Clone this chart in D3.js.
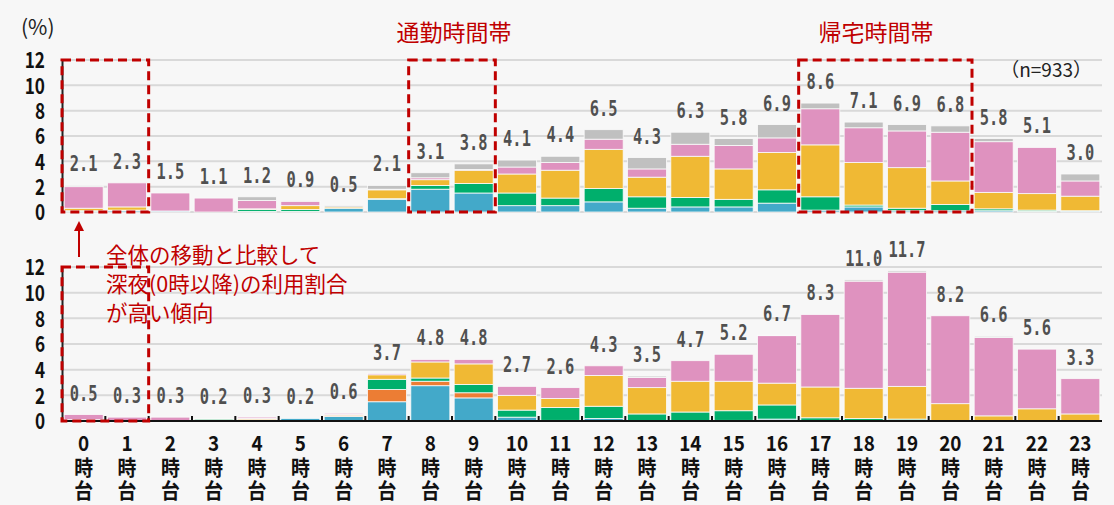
<!DOCTYPE html>
<html>
<head>
<meta charset="utf-8">
<script src="https://cdn.jsdelivr.net/npm/d3@7"></script>
<style>
body { margin: 0; background: #f7f7f7; }
svg { display: block; }
</style>
</head>
<body>
<div id="chart"></div>
<script>
// dimensions
var width = 1114;
var height = 505;

// hour categories and tick labels
var hours = ["0","1","2","3","4","5","6","7","8","9","10","11","12","13","14","15","16","17","18","19","20","21","22","23"];
var yTicks = [0, 2, 4, 6, 8, 10, 12];

// stack order, bottom to top
var keys = ["blue", "orange", "green", "yellow", "pink", "gray"];
var colors = ["#43a9c9", "#ec7d34", "#00af6c", "#f0b934", "#df92bf", "#c0c0c0"];

// top panel: all trips (%)
var topBlue   = [0.05,0.1,0.08,0,0.05,0.05,0.3,1.0,1.8,1.5,0.5,0.5,0.8,0.3,0.4,0.4,0.7,0.15,0.4,0.1,0.1,0.1,0.05,0.08];
var topOrange = [0,0,0,0,0,0,0,0,0,0,0,0,0,0,0,0,0,0,0,0,0,0,0,0];
var topGreen  = [0.05,0.05,0,0,0.15,0.15,0,0.05,0.3,0.75,1.0,0.6,1.05,0.9,0.75,0.6,1.05,1.05,0.15,0.2,0.5,0.15,0.1,0.02];
var topYellow = [0.2,0.25,0,0,0.05,0.3,0.1,0.7,0.45,1.05,1.5,2.2,3.1,1.55,3.25,2.4,2.95,4.1,3.35,3.2,1.85,1.3,1.3,1.15];
var topPink   = [1.7,1.9,1.42,1.1,0.65,0.35,0,0.05,0.15,0.05,0.55,0.6,0.8,0.65,0.95,1.85,1.15,2.85,2.75,2.9,3.85,4.0,3.65,1.2];
var topGray   = [0.1,0,0,0,0.3,0.05,0.1,0.3,0.4,0.45,0.55,0.5,0.75,0.9,0.95,0.55,1.05,0.45,0.45,0.5,0.5,0.25,0,0.55];
var topTotals = [2.1,2.3,1.5,1.1,1.2,0.9,0.5,2.1,3.1,3.8,4.1,4.4,6.5,4.3,6.3,5.8,6.9,8.6,7.1,6.9,6.8,5.8,5.1,3.0];

// bottom panel (%)
var botBlue   = [0.05,0.02,0,0.05,0,0.2,0.35,1.5,2.75,1.8,0.3,0.05,0.2,0,0,0.05,0.15,0.05,0.05,0.05,0,0,0,0];
var botOrange = [0,0,0,0,0.1,0,0.1,0.95,0.35,0.4,0,0,0,0,0,0,0,0,0,0,0,0,0,0];
var botGreen  = [0,0,0,0.1,0,0,0,0.8,0.25,0.65,0.55,1.0,0.95,0.55,0.7,0.75,1.1,0.2,0.15,0.1,0,0,0,0];
var botYellow = [0.05,0.03,0,0.05,0.1,0,0.05,0.35,1.25,1.6,1.15,0.7,2.4,2.05,2.4,2.3,1.7,2.4,2.35,2.55,1.35,0.4,0.95,0.55];
var botPink   = [0.4,0.25,0.3,0,0.1,0,0.1,0.1,0.2,0.35,0.7,0.85,0.75,0.8,1.6,2.1,3.7,5.65,8.35,8.9,6.85,6.1,4.65,2.75];
var botGray   = [0,0,0,0,0,0,0,0,0,0,0,0,0,0.1,0,0,0.05,0,0.1,0.1,0,0.1,0,0];
var botTotals = [0.5,0.3,0.3,0.2,0.3,0.2,0.6,3.7,4.8,4.8,2.7,2.6,4.3,3.5,4.7,5.2,6.7,8.3,11.0,11.7,8.2,6.6,5.6,3.3];

var red = "#c00000";
var cjk = "'Noto Sans CJK JP', 'Noto Sans', sans-serif";

function rows(series) {
    return hours.map(function (h, i) {
        var r = { hour: h };
        keys.forEach(function (k, j) { r[k] = series[j][i]; });
        return r;
    });
}

var svg = d3.select("#chart")
    .append("svg")
    .attr("width", width)
    .attr("height", height);

svg.append("rect").attr("width", width).attr("height", height).attr("fill", "#f7f7f7");

var x = d3.scaleBand().domain(hours)
    .range([62, 1102])
    .paddingInner(0.1)
    .paddingOuter(0.05);

var stack = d3.stack().keys(keys);

function drawPanel(data, totals, bottom, top, darkBase) {
    var y = d3.scaleLinear().domain([0, 12]).range([bottom, top]);
    var g = svg.append("g");

    // gridlines
    g.selectAll("line.grid")
        .data(yTicks)
        .enter()
        .append("line")
        .attr("x1", 62).attr("x2", 1102)
        .attr("y1", function (d) { return y(d); })
        .attr("y2", function (d) { return y(d); })
        .attr("stroke", "#d9d9d9")
        .attr("stroke-width", 2);

    // stacked bars
    var layers = g.selectAll("g.layer")
        .data(stack(data))
        .enter()
        .append("g")
        .attr("fill", function (d, i) { return colors[i]; });

    layers.selectAll("rect")
        .data(function (d) { return d; })
        .enter()
        .filter(function (d) { return d[1] - d[0] > 0; })
        .append("rect")
        .attr("x", function (d) { return x(d.data.hour); })
        .attr("width", x.bandwidth())
        .attr("y", function (d) { return y(d[1]); })
        .attr("height", function (d) { return y(d[0]) - y(d[1]); })
        .attr("stroke", "#fafafa")
        .attr("stroke-width", 0.8);

    // value labels
    g.selectAll("text.val")
        .data(totals)
        .enter()
        .append("text")
        .attr("transform", function (d, i) {
            return "translate(" + (x(hours[i]) + x.bandwidth() / 2) + "," + (y(d) - 14) + ") scale(0.7,1)";
        })
        .attr("text-anchor", "middle")
        .attr("font-family", "'DejaVu Sans Mono', monospace")
        .attr("font-weight", 700)
        .attr("font-size", "22px")
        .attr("fill", "#505050")
        .text(function (d) { return d.toFixed(1); });

    // y axis
    var ax = g.append("g")
        .attr("transform", "translate(62,0)")
        .call(d3.axisLeft(y).tickValues(yTicks).tickSize(0).tickPadding(0));
    ax.select(".domain").attr("stroke", "#222").attr("stroke-width", 2);
    ax.selectAll("text")
        .attr("font-family", cjk)
        .attr("font-weight", 700)
        .attr("font-size", "22px")
        .attr("fill", "#111")
        .attr("x", null)
        .attr("dy", "0.35em")
        .attr("transform", "translate(-17,0) scale(0.78,1)");

    if (darkBase) {
        g.append("line")
            .attr("x1", 62).attr("x2", 1102)
            .attr("y1", y(0)).attr("y2", y(0))
            .attr("stroke", "#111").attr("stroke-width", 2);
        g.selectAll("line.tick")
            .data(hours.slice(1))
            .enter()
            .append("line")
            .attr("x1", function (d) { return x(d) - (x.step() - x.bandwidth()) / 2; })
            .attr("x2", function (d) { return x(d) - (x.step() - x.bandwidth()) / 2; })
            .attr("y1", y(0)).attr("y2", y(0) - 5)
            .attr("stroke", "#111").attr("stroke-width", 2);
    }
    return y;
}

var yTop = drawPanel(rows([topBlue, topOrange, topGreen, topYellow, topPink, topGray]), topTotals, 212, 60, false);
var yBot = drawPanel(rows([botBlue, botOrange, botGreen, botYellow, botPink, botGray]), botTotals, 421, 267, true);

// x labels: hour / 時 / 台
var xl = svg.selectAll("g.xl")
    .data(hours)
    .enter()
    .append("g")
    .attr("transform", function (d) { return "translate(" + (x(d) + x.bandwidth() / 2) + ",0)"; });
["", "時", "台"].forEach(function (s, j) {
    xl.append("text")
        .attr("transform", "translate(0," + (451 + j * 23.5) + ") scale(0.9,1)")
        .attr("text-anchor", "middle")
        .attr("font-family", cjk)
        .attr("font-weight", 700)
        .attr("font-size", "21px")
        .attr("fill", "#111")
        .text(function (d) { return j === 0 ? d : s; });
});

// dashed highlight boxes
function box(h0, h1, y) {
    var x0 = h0 === "0" ? 62 : x(h0) - (x.step() - x.bandwidth()) / 2;
    var x1 = x(h1) + x.bandwidth() + (x.step() - x.bandwidth()) / 2;
    svg.append("rect")
        .attr("x", x0).attr("y", y(12))
        .attr("width", x1 - x0).attr("height", y(0) - y(12))
        .attr("fill", "none")
        .attr("stroke", red)
        .attr("stroke-width", 3)
        .attr("stroke-dasharray", "9,5");
}
box("0", "1", yTop);
box("8", "9", yTop);
box("17", "20", yTop);
box("0", "1", yBot);

// texts
svg.append("text").attr("x", 21).attr("y", 35)
    .attr("font-family", cjk).attr("font-size", "21px").attr("fill", "#222")
    .text("(%)");
svg.append("text").attr("x", 454).attr("y", 41).attr("text-anchor", "middle")
    .attr("font-family", cjk).attr("font-size", "23px").attr("fill", red)
    .text("通勤時間帯");
svg.append("text").attr("x", 876).attr("y", 41).attr("text-anchor", "middle")
    .attr("font-family", cjk).attr("font-size", "23px").attr("fill", red)
    .text("帰宅時間帯");
svg.append("text").attr("x", 1092).attr("y", 77).attr("text-anchor", "end")
    .attr("font-family", cjk).attr("font-size", "19px").attr("fill", "#222")
    .text("（n=933）");

// annotation
var note = ["全体の移動と比較して", "深夜(0時以降)の利用割合", "が高い傾向"];
svg.selectAll("text.note")
    .data(note)
    .enter()
    .append("text")
    .attr("x", 106)
    .attr("y", function (d, i) { return 263 + i * 29; })
    .attr("font-family", cjk)
    .attr("font-size", "21.5px")
    .attr("fill", red)
    .text(function (d) { return d; });

// arrow
svg.append("line").attr("x1", 79).attr("x2", 79).attr("y1", 257).attr("y2", 228)
    .attr("stroke", red).attr("stroke-width", 2);
svg.append("path").attr("d", "M74,231L79,221L84,231Z").attr("fill", red);
</script>
</body>
</html>
